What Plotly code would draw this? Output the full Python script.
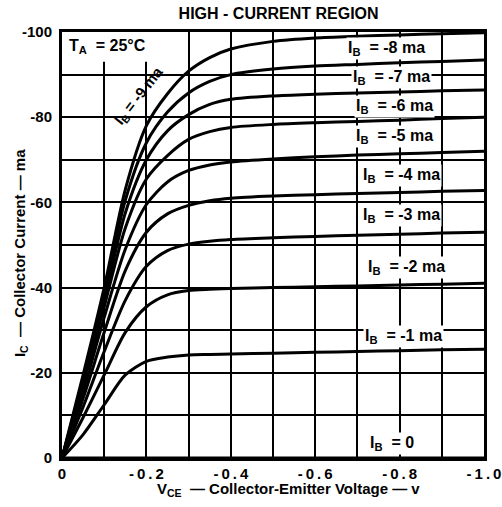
import plotly.graph_objects as go

# ---- data ----
vce = [0, -0.05, -0.1, -0.15, -0.2, -0.25, -0.3, -0.35, -0.4, -0.5, -0.6, -0.7, -0.8, -0.9, -1.0]

ic_ib0 = [0, 0, 0, 0, 0, 0, 0, 0, 0, 0, 0, 0, 0, 0, 0]
ic_ib1 = [0, -5.5, -12.5, -19.5, -22.7, -23.7, -24.2, -24.3, -24.4, -24.6, -24.8, -25.0, -25.2, -25.4, -25.5]
ic_ib2 = [0, -9.5, -19.5, -29.5, -35.5, -38.3, -39.3, -39.6, -39.8, -40.0, -40.2, -40.4, -40.6, -40.8, -41.0]
ic_ib3 = [0, -12.0, -25.0, -37.0, -45.0, -48.7, -50.2, -50.9, -51.3, -51.7, -52.0, -52.3, -52.5, -52.8, -53.0]
ic_ib4 = [0, -14.0, -29.5, -44.0, -53.0, -57.3, -59.3, -60.4, -61.0, -61.5, -61.8, -62.1, -62.3, -62.6, -62.8]
ic_ib5 = [0, -15.5, -33.0, -49.0, -59.5, -64.8, -67.5, -68.8, -69.5, -70.2, -70.7, -71.1, -71.4, -71.7, -72.0]
ic_ib6 = [0, -17.0, -35.5, -54.0, -65.5, -71.0, -74.8, -76.6, -77.6, -78.3, -78.7, -79.0, -79.3, -79.7, -80.0]
ic_ib7 = [0, -18.0, -37.0, -57.5, -70.0, -76.8, -80.6, -83.0, -84.2, -85.0, -85.4, -85.7, -85.9, -86.2, -86.4]
ic_ib8 = [0, -18.5, -38.5, -60.5, -74.0, -81.2, -85.7, -88.4, -90.0, -91.3, -92.0, -92.4, -92.8, -93.1, -93.4]
ic_ib9 = [0, -19.5, -40.0, -63.0, -78.0, -85.5, -90.8, -94.0, -96.0, -97.8, -98.6, -99.0, -99.3, -99.6, -99.8]

curves = [ic_ib0, ic_ib1, ic_ib2, ic_ib3, ic_ib4, ic_ib5, ic_ib6, ic_ib7, ic_ib8, ic_ib9]

x_tick_vals = [0, -0.2, -0.4, -0.6, -0.8, -1.0]
x_tick_text = ["0", "-0.2", "-0.4", "-0.6", "-0.8", "-1.0"]
y_tick_vals = [0, -20, -40, -60, -80, -100]
y_tick_text = ["0", "-20", "-40", "-60", "-80", "-100"]

ib_labels = ["0", "-1 ma", "-2 ma", "-3 ma", "-4 ma", "-5 ma", "-6 ma", "-7 ma", "-8 ma"]

title_text = "HIGH - CURRENT REGION"
x_title = "V<sub>CE</sub>  — Collector-Emitter Voltage — v"
y_title = "I<sub>C</sub>  — Collector Current — ma"
temp_text = "T<sub>A</sub>  = 25°C"
ib9_text = "I<sub>B</sub> = -9 ma"

# ---- figure ----
FONT = "Liberation Sans"
fig = go.Figure()
for ys in curves:
    fig.add_trace(go.Scatter(
        x=vce, y=ys, mode="lines",
        line=dict(color="black", width=3, shape="spline", smoothing=0.8),
        hoverinfo="skip", showlegend=False,
    ))

# label positions (layout only)
lab_x = [-0.781, -0.81, -0.817, -0.805, -0.805, -0.788, -0.788, -0.781, -0.769]
lab_y = [-3.5, -28.6, -44.8, -57.0, -66.4, -75.4, -82.4, -89.4, -96.2]

def txtfont(size=15):
    return dict(family=FONT, size=size, color="black", weight="bold")

annotations = []
for t, lx, ly in zip(ib_labels, lab_x, lab_y):
    annotations.append(dict(
        x=lx, y=ly, xref="x", yref="y", showarrow=False,
        xanchor="center", yanchor="middle",
        text="I<sub>B</sub>  = " + t, font=txtfont(16),
        bgcolor="white", borderpad=1,
    ))

annotations.append(dict(
    x=-0.184, y=-85.0, xref="x", yref="y", showarrow=False, textangle=-52,
    xanchor="center", yanchor="middle",
    text=ib9_text, font=txtfont(15),
))
annotations.append(dict(
    x=0.109, y=0.965, xref="paper", yref="paper", showarrow=False,
    xanchor="center", yanchor="middle",
    text=temp_text, font=txtfont(16),
))
annotations.append(dict(
    x=0.536, y=-0.075, xref="paper", yref="paper", showarrow=False,
    xanchor="center", yanchor="middle",
    text=x_title, font=txtfont(15),
))
annotations.append(dict(
    x=-0.0995, y=0.481, xref="paper", yref="paper", showarrow=False, textangle=-90,
    xanchor="center", yanchor="middle",
    text=y_title, font=txtfont(15),
))

fig.add_shape(type="rect", xref="x", yref="y", x0=0, x1=-0.203, y0=-100, y1=-93,
              fillcolor="white", line=dict(width=0), layer="between")

axis_common = dict(
    showgrid=True, gridcolor="black", gridwidth=2,
    showline=True, linecolor="black", linewidth=3, mirror=True,
    zeroline=False, ticks="", automargin=False,
    tickfont=txtfont(15),
)

fig.update_layout(
    width=502, height=507,
    margin=dict(l=62, r=18, t=32, b=49),
    paper_bgcolor="white", plot_bgcolor="white",
    title=dict(text=title_text, x=0.555, xanchor="center", y=0.973, yanchor="middle",
               yref="container", font=txtfont(16)),
    annotations=annotations,
    xaxis=dict(range=[0, -1.0], tickvals=x_tick_vals,
               ticktext=["\u2009".join(t) for t in x_tick_text],
               minor=dict(dtick=0.1, tick0=0, showgrid=True, gridcolor="black", gridwidth=2),
               ticklabelstandoff=0, **axis_common),
    yaxis=dict(range=[0, -100], tickvals=y_tick_vals, ticktext=y_tick_text,
               minor=dict(dtick=10, tick0=0, showgrid=True, gridcolor="black", gridwidth=2),
               ticklabelstandoff=4, **axis_common),
)

fig.write_html("out.html", config={"displayModeBar": False, "staticPlot": True},
               post_script="document.body.style.margin='0';")
